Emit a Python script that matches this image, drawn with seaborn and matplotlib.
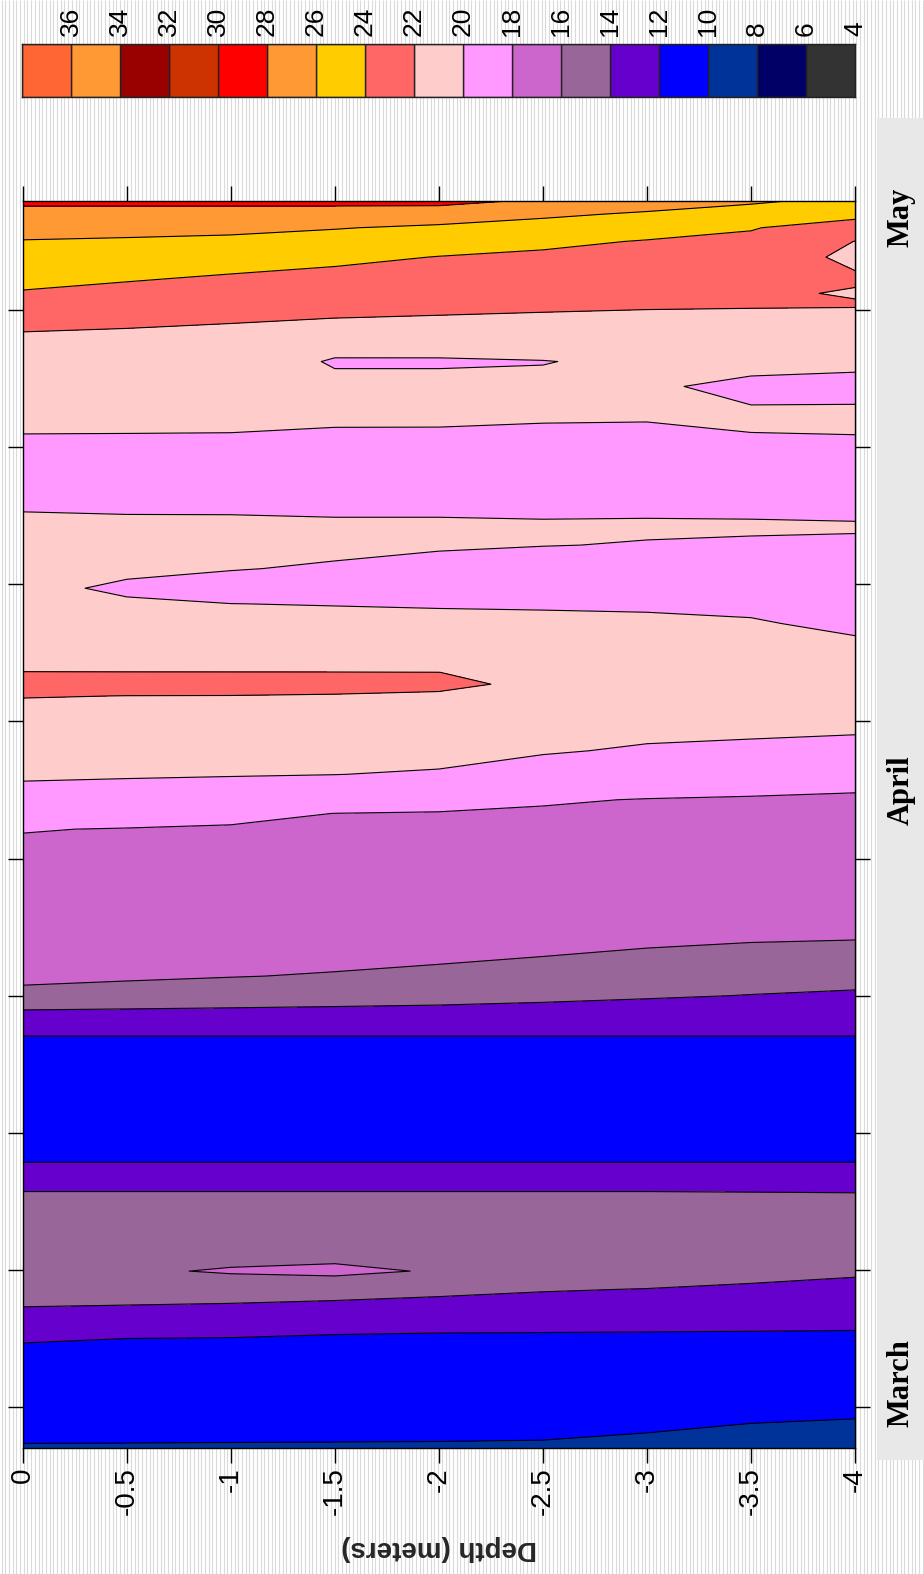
import numpy as np
import matplotlib
matplotlib.use("Agg")
import matplotlib.pyplot as plt
import seaborn as sns
from matplotlib.patches import Rectangle

sns.set_theme(style="white")
plt.rcParams["font.family"] = ["Liberation Sans", "DejaVu Sans"]

# ---------------- data ----------------
levels = [4, 6, 8, 10, 12, 14, 16, 18, 20, 22, 24, 26, 28, 30, 32, 34, 36, 38]
colors = ["#333333", "#000066", "#003399", "#0000FF", "#6600CC", "#996699",
          "#CC66CC", "#FF99FF", "#FFCCCC", "#FF6666", "#FFCC00", "#FF9933",
          "#FF0000", "#CC3300", "#990000", "#FF9933", "#FF6633"]
depths = [0.0, -0.5, -1.0, -1.5, -2.0, -2.5, -3.0, -3.5, -4.0]
# days since 1 March
days = [-2.09, 1.0, 3.5, 4.5, 6.0, 6.94, 8.0, 10.0, 11.5, 13.0, 16.0, 18.0,
        19.5, 21.0, 22.0, 24.0, 27.0, 29.5, 30.3, 31.0, 32.3, 33.5, 35.0,
        36.3, 36.9, 37.5, 38.5, 40.0, 41.0, 41.8, 42.8, 44.0, 44.9, 46.0,
        47.5, 49.0, 50.5, 52.1, 53.37, 54.5, 55.6, 56.35, 56.85, 57.6, 58.7,
        59.5, 60.2, 60.9, 61.3, 61.58]
temps = [
    [9.92, 9.91, 9.90, 9.89, 9.88, 9.85, 9.70, 9.45, 9.35],
    [11.0, 11.0, 11.0, 11.0, 11.0, 11.0, 10.9, 10.8, 10.7],
    [12.1, 12.0, 11.95, 11.75, 11.65, 11.65, 11.65, 11.65, 11.65],
    [13.3, 13.2, 13.1, 13.0, 12.9, 12.8, 12.7, 12.6, 12.5],
    [15.0, 14.9, 14.8, 14.6, 14.35, 14.1, 13.95, 13.7, 13.5],
    [15.2, 15.7, 16.2, 16.5, 15.81, 15.3, 14.9, 14.6, 14.25],
    [15.0, 15.1, 15.1, 15.1, 15.1, 15.0, 14.9, 14.8, 14.7],
    [14.6, 14.6, 14.6, 14.6, 14.6, 14.6, 14.6, 14.55, 14.5],
    [13.7, 13.7, 13.7, 13.7, 13.7, 13.7, 13.7, 13.7, 13.7],
    [11.15, 11.15, 11.15, 11.15, 11.15, 11.15, 11.15, 11.15, 11.15],
    [10.5, 10.5, 10.5, 10.5, 10.5, 10.5, 10.5, 10.5, 10.5],
    [11.5, 11.5, 11.5, 11.5, 11.5, 11.5, 11.5, 11.5, 11.5],
    [12.3, 12.3, 12.3, 12.3, 12.3, 12.3, 12.3, 12.3, 12.3],
    [15.6, 15.4, 15.2, 15.0, 14.8, 14.5, 14.2, 13.95, 13.75],
    [16.35, 16.2, 16.05, 15.9, 15.7, 15.4, 15.0, 14.8, 14.6],
    [17.0, 17.0, 16.9, 16.8, 16.7, 16.6, 16.4, 16.2, 16.12],
    [17.55, 17.52, 17.45, 17.37, 17.29, 17.21, 17.07, 16.92, 16.85],
    [18.04, 17.96, 17.9, 17.85, 17.78, 17.72, 17.63, 17.53, 17.45],
    [18.74, 18.51, 18.26, 17.99, 17.94, 17.88, 17.8, 17.72, 17.65],
    [19.35, 19.16, 18.94, 18.71, 18.43, 18.1, 17.96, 17.89, 17.82],
    [20.24, 20.17, 20.1, 20.02, 19.85, 19.23, 18.88, 18.69, 18.48],
    [20.78, 20.72, 20.66, 20.59, 20.52, 20.15, 19.81, 19.68, 19.52],
    [21.45, 21.41, 21.37, 21.31, 21.25, 20.88, 20.6, 20.48, 20.4],
    [22.05, 21.99, 21.98, 21.93, 21.88, 21.51, 21.22, 21.04, 20.95],
    [22.6, 22.5, 22.5, 22.4, 22.2, 21.8, 21.5, 21.3, 21.2],
    [22.02, 22.02, 22.02, 22.02, 22.01, 21.46, 21.24, 21.08, 20.98],
    [21.5, 21.3, 21.2, 21.1, 21.0, 20.9, 20.8, 20.7, 20.45],
    [20.95, 20.62, 20.49, 20.42, 20.36, 20.3, 20.24, 20.13, 19.68],
    [20.59, 20.16, 20.01, 19.95, 19.89, 19.86, 19.82, 19.69, 19.3],
    [20.3, 19.8, 19.4, 19.35, 19.36, 19.4, 19.39, 19.32, 19.0],
    [20.53, 20.24, 20.07, 19.84, 19.54, 19.22, 19.19, 19.17, 19.37],
    [20.8, 20.6, 20.41, 20.33, 20.16, 20.04, 19.93, 19.84, 19.81],
    [20.37, 20.26, 20.26, 20.18, 20.18, 20.13, 20.17, 20.15, 20.1],
    [19.86, 19.83, 19.82, 19.8, 19.8, 19.79, 19.77, 19.76, 19.75],
    [19.2, 19.2, 19.2, 19.2, 19.2, 19.2, 19.2, 19.2, 19.2],
    [19.73, 19.72, 19.72, 19.71, 19.7, 19.69, 19.7, 19.75, 19.78],
    [20.33, 20.32, 20.29, 20.14, 20.14, 20.07, 20.05, 20.25, 20.3],
    [21.03, 21.03, 20.93, 20.5, 20.5, 20.3, 20.2, 19.64, 19.6],
    [21.42, 21.41, 21.33, 19.8, 19.8, 19.95, 20.3, 20.5, 20.3],
    [21.77, 21.75, 21.69, 20.99, 21.0, 20.9, 20.9, 21.13, 20.98],
    [22.43, 22.24, 22.11, 22.01, 21.91, 21.81, 21.73, 21.74, 21.64],
    [23.29, 22.97, 22.73, 22.55, 22.42, 22.31, 22.21, 22.14, 22.15],
    [23.86, 23.45, 23.15, 22.92, 22.74, 22.6, 22.48, 22.38, 21.8],
    [24.48, 24.15, 23.77, 23.47, 23.23, 23.04, 22.88, 22.75, 22.3],
    [25.31, 25.09, 24.82, 24.41, 23.95, 23.69, 23.47, 23.29, 21.5],
    [25.91, 25.78, 25.61, 25.29, 24.86, 24.36, 23.9, 23.69, 21.97],
    [26.68, 26.56, 26.43, 26.09, 25.7, 25.28, 24.76, 24.09, 23.2],
    [27.51, 27.46, 27.41, 27.28, 27.03, 26.33, 25.78, 25.2, 24.5],
    [27.98, 27.97, 27.97, 27.97, 27.95, 27.19, 26.47, 25.83, 25.0],
    [29.0, 29.0, 29.0, 28.9, 28.5, 27.8, 27.0, 26.3, 25.5],
]
depth_ticks = [0, -0.5, -1, -1.5, -2, -2.5, -3, -3.5, -4]
depth_labels = ["0", "-0.5", "-1", "-1.5", "-2", "-2.5", "-3", "-3.5", "-4"]
week_ticks = [0, 7, 14, 21, 28, 35, 42, 49, 56]
months = ["March", "April", "May"]
month_pos = [1383, 790, 217]   # pixel rows of the strip labels

# ---------------- figure ----------------
W, H = 924, 1574
fig = plt.figure(figsize=(W / 100, H / 100), dpi=100)
fig.patch.set_facecolor("white")

bg = fig.add_axes([0, 0, 1, 1], zorder=-10)
bg.set_xlim(0, W)
bg.set_ylim(H, 0)
bg.axis("off")
bg.vlines(np.arange(1.5, W, 3.7), 0, H, color="#dadada", lw=0.8)
bg.add_patch(Rectangle((877, 118), W - 877, 1460 - 118, facecolor="#e8e8e8",
                       edgecolor="none", zorder=3))
for m, p in zip(months, month_pos):
    bg.text(901, p, m, rotation=90, ha="center", va="center", fontsize=22,
            fontweight="bold", family=["Liberation Serif", "DejaVu Serif"],
            color="black", zorder=4)

# main panel
x0, x1, y0, y1 = 22.7, 855.0, 200.7, 1448.0
ax = fig.add_axes([x0 / W, 1 - y1 / H, (x1 - x0) / W, (y1 - y0) / H])
Z = np.array(temps)
ax.contourf(depths, days, Z, levels=levels, colors=colors)
ax.contour(depths, days, Z, levels=levels, colors="black", linewidths=0.8)
ax.set_xlim(0, -4)
ax.set_ylim(days[0], days[-1])
ax.set_xticks(depth_ticks)
ax.set_xticklabels(depth_labels, rotation=90)
ax.set_yticks(week_ticks)
ax.set_yticklabels([])
ax.tick_params(axis="both", direction="out", length=10.8, width=1,
               colors="black", bottom=True, top=True, left=True, right=True,
               labelsize=20, pad=3)
for s in ax.spines.values():
    s.set_visible(True)
    s.set_color("black")
    s.set_linewidth(1)
ax.set_xlabel("Depth (meters)", fontsize=20, fontweight="bold", rotation=180,
              va="center")
ax.xaxis.set_label_coords(0.5, -(1548 - y1) / (y1 - y0))

# colour key
cx0, cx1, cy0, cy1 = 22.0, 855.0, 44.0, 97.0
cax = fig.add_axes([cx0 / W, 1 - cy1 / H, (cx1 - cx0) / W, (cy1 - cy0) / H])
mids = [(a + b) / 2 for a, b in zip(levels[:-1], levels[1:])]
cax.bar(mids, 1, width=2, color=colors, edgecolor="#222222", linewidth=1)
cax.set_xlim(levels[-1], levels[0])
cax.set_ylim(0, 1)
cax.set_xticks(levels[:-1])
cax.set_xticklabels([str(v) for v in levels[:-1]], rotation=90)
cax.xaxis.tick_top()
cax.set_yticks([])
cax.tick_params(axis="x", length=0, labelsize=19, pad=6, colors="black")
for s in cax.spines.values():
    s.set_visible(True)
    s.set_color("#222222")
    s.set_linewidth(1)

fig.savefig("out.png", dpi=100)
